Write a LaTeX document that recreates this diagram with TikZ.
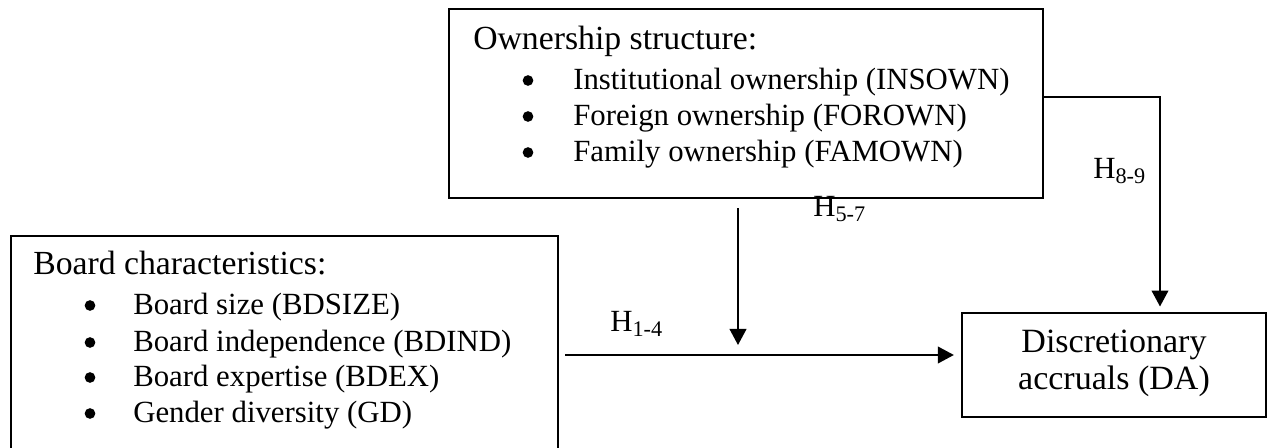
\documentclass[tikz,border=0pt]{standalone}
\usepackage{fontspec}
\setmainfont{Liberation Serif}
\usetikzlibrary{arrows.meta}
\newcommand\hsub[1]{\raisebox{-3.5pt}{\fontsize{16.7}{19}\selectfont #1}}
\begin{document}
\begin{tikzpicture}[x=0.75pt,y=-0.75pt,
  box/.style={draw,line width=1.7pt,inner sep=0pt,rectangle},
  txt/.style={anchor=base west,inner sep=0pt,font=\fontsize{23.1}{27}\selectfont},
  head/.style={anchor=base west,inner sep=0pt,font=\fontsize{25.3}{29}\selectfont},
  bul/.style={circle,fill,inner sep=0pt,minimum size=8pt},
  ctr/.style={anchor=base,inner sep=0pt,font=\fontsize{25.5}{29}\selectfont},
  conn/.style={line width=1.4pt},
  arr/.style={conn,-{Triangle[length=12pt,width=12.5pt]}}]
\useasboundingbox (0,0) rectangle (1268,448);
% boxes
\node[box,minimum width=445.5pt,minimum height=141.75pt] (own) at (746,103.5) {};
\node[box,minimum width=410.25pt,minimum height=162pt] (board) at (284.5,344) {};
\node[box,minimum width=228pt,minimum height=78pt] (da) at (1114,365) {};
% ownership text
\node[head] (ownh) at (473,50) {Ownership structure:};
\node[bul] (ob1) at (528,80.5) {};
\node[txt] (ot1) at (573,90) {Institutional ownership (INSOWN)};
\node[bul] (ob2) at (528,116.5) {};
\node[txt] (ot2) at (573,126) {Foreign ownership (FOROWN)};
\node[bul] (ob3) at (528,152.5) {};
\node[txt] (ot3) at (573,162) {Family ownership (FAMOWN)};
% board text
\node[head] (bh) at (33,275) {Board characteristics:};
\node[bul] (bb1) at (90,305.5) {};
\node[txt] (bt1) at (133,315) {Board size (BDSIZE)};
\node[bul] (bb2) at (90,342.5) {};
\node[txt] (bt2) at (133,352) {Board independence (BDIND)};
\node[bul] (bb3) at (90,377.5) {};
\node[txt] (bt3) at (133,387) {Board expertise (BDEX)};
\node[bul] (bb4) at (90,413.5) {};
\node[txt] (bt4) at (133,423) {Gender diversity (GD)};
% DA text
\node[ctr] (dat1) at (1114,353) {Discretionary};
\node[ctr] (dat2) at (1114,390) {accruals (DA)};
% labels
\node[txt] (h14) at (610,332) {H\hsub{1-4}};
\node[txt] (h57) at (813,217) {H\hsub{5-7}};
\node[txt] (h89) at (1093,179) {H\hsub{8-9}};
% connectors
\coordinate (a1) at (565,355);
\coordinate (mid) at (738,355);
\coordinate (c1) at (1160,97);
\draw[arr,shorten >=5.25pt] (a1) -- (da.west |- a1);
\draw[arr,shorten <=6.75pt,shorten >=7.5pt] (own.south -| mid) -- (mid);
\draw[arr,shorten >=4pt] (own.east |- c1) -- (c1) -- (da.north -| c1);
\end{tikzpicture}
\end{document}
